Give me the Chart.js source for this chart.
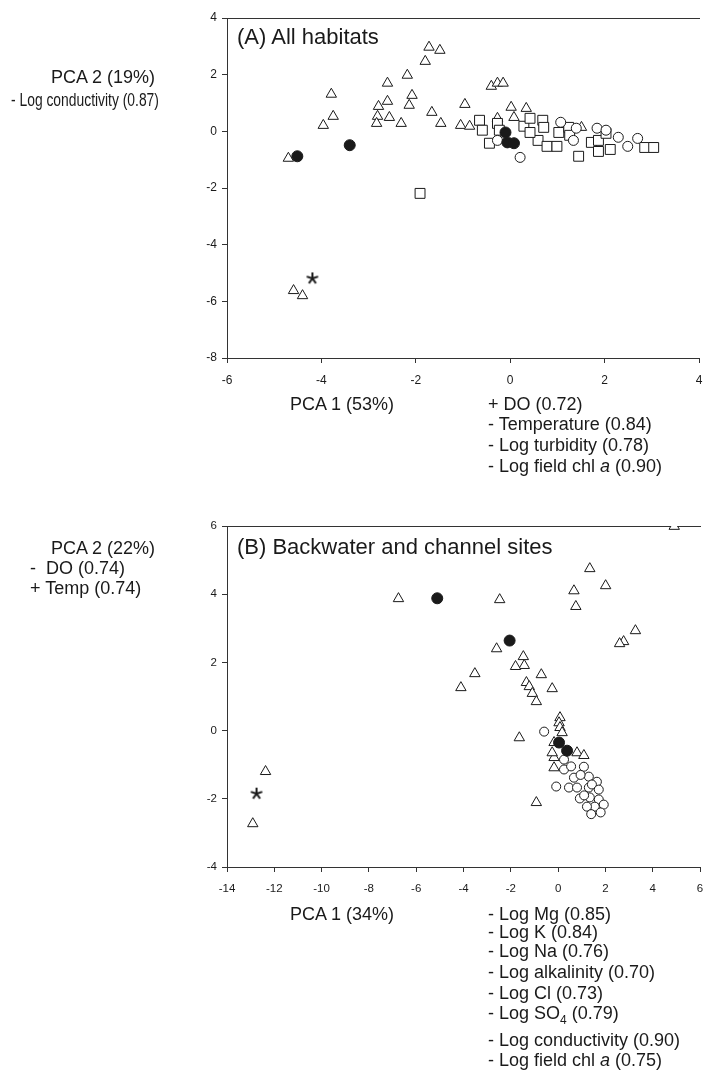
<!DOCTYPE html>
<html>
<head>
<meta charset="utf-8">
<script src="https://cdn.jsdelivr.net/npm/chart.js@4.4.1/dist/chart.umd.min.js"></script>
<style>
body { margin: 0; background: #fff; font-family: "Liberation Sans", Arial, sans-serif; color: #1a1a1a; }
#page { position: relative; width: 707px; height: 1071px; overflow: hidden; }
canvas { position: absolute; left: 0; }
.lbl { position: absolute; font-size: 18px; white-space: nowrap; line-height: 20px; z-index: 2; }
.ttl { position: absolute; font-size: 22px; white-space: nowrap; line-height: 24px; z-index: 2; }
.c { text-align: center; }
.sq { display: inline-block; transform: scaleX(0.77); transform-origin: left center; }
sub { font-size: 12px; line-height: 0; }
</style>
</head>
<body>
<div id="page">
  <canvas id="chartA" width="707" height="400" style="top:0px"></canvas>
  <canvas id="chartB" width="707" height="420" style="top:500px"></canvas>

  <!-- panel A text -->
  <div class="ttl" style="left:237px; top:25px">(A) All habitats</div>
  <div class="lbl c" style="left:0px; width:206px; top:67px">PCA 2 (19%)</div>
  <div class="lbl" style="left:11px; top:90px"><span class="sq">- Log conductivity (0.87)</span></div>
  <div class="lbl c" style="left:242px; width:200px; top:394px">PCA 1 (53%)</div>
  <div class="lbl" style="left:488px; top:394px">+ DO (0.72)</div>
  <div class="lbl" style="left:488px; top:414px">- Temperature (0.84)</div>
  <div class="lbl" style="left:488px; top:435px">- Log turbidity (0.78)</div>
  <div class="lbl" style="left:488px; top:456px">- Log field chl <i>a</i> (0.90)</div>

  <!-- panel B text -->
  <div class="ttl" style="left:237px; top:535px">(B) Backwater and channel sites</div>
  <div class="lbl c" style="left:0px; width:206px; top:538px">PCA 2 (22%)</div>
  <div class="lbl" style="left:30px; top:558px">-&nbsp; DO (0.74)</div>
  <div class="lbl" style="left:30px; top:578px">+ Temp (0.74)</div>
  <div class="lbl c" style="left:242px; width:200px; top:904px">PCA 1 (34%)</div>
  <div class="lbl" style="left:488px; top:904px">- Log Mg (0.85)</div>
  <div class="lbl" style="left:488px; top:922px">- Log K (0.84)</div>
  <div class="lbl" style="left:488px; top:941px">- Log Na (0.76)</div>
  <div class="lbl" style="left:488px; top:962px">- Log alkalinity (0.70)</div>
  <div class="lbl" style="left:488px; top:983px">- Log Cl (0.73)</div>
  <div class="lbl" style="left:488px; top:1003px">- Log SO<sub>4</sub> (0.79)</div>
  <div class="lbl" style="left:488px; top:1030px">- Log conductivity (0.90)</div>
  <div class="lbl" style="left:488px; top:1050px">- Log field chl <i>a</i> (0.75)</div>
</div>

<script>
// ---- panel A data (PCA 1, PCA 2) ----
var aTriangles = [[-1.72,2.97],[-1.49,2.86],[-1.80,2.47],[-2.18,1.98],[-2.60,1.70],[-3.79,1.31],
  [-2.08,1.27],[-2.60,1.06],[-2.79,0.88],[-2.14,0.92],[-3.75,0.53],[-2.81,0.53],[-2.56,0.49],
  [-1.66,0.67],[-0.96,0.95],[-3.96,0.21],[-2.83,0.28],[-2.31,0.28],[-1.47,0.28],[-1.05,0.21],
  [-0.86,0.18],[-4.70,-0.95],[-4.59,-5.62],[-4.40,-5.80],[-0.40,1.59],[-0.27,1.70],[-0.15,1.70],
  [0.02,0.85],[0.34,0.81],[-0.27,0.46],[0.08,0.49],[1.51,0.14]];
var aSquares = [[-1.91,-2.19],[-0.65,0.39],[-0.59,0.04],[-0.27,0.28],[-0.23,0.04],[-0.44,-0.42],
  [0.29,0.18],[0.42,0.46],[0.69,0.39],[0.71,0.14],[0.59,-0.32],[0.78,-0.53],[0.99,-0.53],
  [1.03,-0.04],[1.24,0.14],[1.26,-0.14],[1.45,-0.88],[1.72,-0.39],[1.87,-0.32],[1.87,-0.71],
  [2.12,-0.64],[2.85,-0.57],[3.04,-0.57],[0.42,-0.04],[2.03,-0.07]];
var aCircles = [[-0.27,-0.32],[0.21,-0.92],[1.07,0.32],[1.34,-0.32],[1.84,0.11],[2.03,0.04],
  [2.29,-0.21],[2.49,-0.53],[2.70,-0.25],[1.40,0.11]];
var aFilled = [[-4.51,-0.88],[-3.40,-0.49],[-0.10,-0.04],[-0.06,-0.39],[0.08,-0.42]];
var aStar = [[-4.19,-5.19]];

// ---- panel B data ----
var bTriangles = [[4.91,5.99],[1.34,4.75],[2.01,4.25],[0.67,4.10],[0.75,3.64],[-6.75,3.87],
  [-2.47,3.84],[-2.60,2.40],[3.27,2.93],[2.77,2.61],[2.60,2.55],[-1.47,2.17],[-1.43,1.91],
  [-1.80,1.88],[-3.52,1.67],[-4.11,1.26],[-0.71,1.64],[-1.34,1.41],[-1.22,1.29],[-1.09,1.09],
  [-0.92,0.85],[-0.25,1.23],[0.08,0.38],[0.04,0.23],[0.08,0.09],[0.17,-0.06],[-1.64,-0.21],
  [-0.17,-0.35],[0.80,-0.65],[1.09,-0.73],[-0.17,-0.79],[-0.17,-1.09],[-0.92,-2.11],
  [-0.25,-0.65],[-12.37,-1.20],[-12.91,-2.73]];
var bCircles = [[-0.59,-0.03],[0.25,-0.85],[0.25,-1.14],[1.09,-1.06],[0.67,-1.38],[-0.08,-1.64],
  [0.46,-1.67],[0.80,-1.67],[1.30,-1.67],[1.30,-1.35],[1.64,-1.50],[1.34,-1.96],[0.92,-1.99],
  [1.72,-2.02],[1.93,-2.17],[1.55,-2.23],[1.22,-2.23],[1.43,-1.58],[1.72,-1.73],[1.40,-2.45],
  [1.80,-2.40],[0.55,-1.05],[0.95,-1.30],[1.10,-1.90]];
var bFilled = [[-5.11,3.88],[-2.05,2.64],[0.04,-0.35],[0.38,-0.59]];
var bStar = [[-12.75,-1.85]];

var ink = '#1a1a1a';

function pts(arr) {
  return arr.map(function(p) { return { x: p[0], y: p[1] }; });
}

// little asterisk used as a point style
function makeStar() {
  var c = document.createElement('canvas');
  c.width = 14; c.height = 14;
  var g = c.getContext('2d');
  g.strokeStyle = ink;
  g.lineWidth = 2;
  for (var k = 0; k < 5; k++) {
    var a = -Math.PI / 2 + k * 2 * Math.PI / 5;
    g.beginPath();
    g.moveTo(7, 7);
    g.lineTo(7 + 6 * Math.cos(a), 7 + 6 * Math.sin(a));
    g.stroke();
  }
  return c;
}
var starImg = makeStar();

function series(data, style, r, fill, order) {
  return {
    data: pts(data),
    pointStyle: style,
    pointRadius: r,
    pointBorderWidth: 1,
    pointBorderColor: ink,
    pointBackgroundColor: fill,
    showLine: false,
    order: order
  };
}

function axis(pos, min, max, step, size, fontSize, pad) {
  return {
    type: 'linear',
    position: pos,
    min: min,
    max: max,
    ticks: { stepSize: step, color: ink, font: { size: fontSize, family: 'Liberation Sans' }, padding: pad },
    grid: { drawOnChartArea: false, drawTicks: true, tickLength: 5, color: '#333' },
    border: { display: true, color: '#333', width: 1 },
    afterFit: function(s) {
      if (pos === 'left') {
        s.width = size;
      } else {
        s.height = size;
        // don't let the end labels shrink the plot
        s.paddingLeft = 0;
        s.paddingRight = 0;
      }
    }
  };
}

function makePanel(id, datasets, xr, yr, padTop, xAxisH, fontSize) {
  var xTop = {
    type: 'linear', axis: 'x', position: 'top', min: xr[0], max: xr[1],
    ticks: { display: false },
    grid: { display: false },
    border: { display: true, color: '#333', width: 1 },
    afterFit: function(s) { s.height = 0; s.paddingLeft = 0; s.paddingRight = 0; }
  };
  return new Chart(document.getElementById(id), {
    type: 'scatter',
    data: { datasets: datasets },
    options: {
      responsive: false,
      animation: false,
      events: [],
      layout: { padding: { top: padTop, right: -1, left: 0, bottom: 0 } },
      plugins: { legend: { display: false }, tooltip: { enabled: false } },
      scales: {
        x: axis('bottom', xr[0], xr[1], xr[2], xAxisH, fontSize, 10),
        y: axis('left', yr[0], yr[1], yr[2], 227, fontSize, 5),
        xTop: xTop
      }
    }
  });
}

makePanel('chartA', [
  series(aFilled, 'circle', 5.5, ink, 0),
  series(aStar, starImg, 6, ink, 0),
  series(aCircles, 'circle', 5, '#fff', 1),
  series(aSquares, 'rect', 7, '#fff', 1),
  series(aTriangles, 'triangle', 6, '#fff', 2)
], [-6, 4, 2], [-8, 4, 2], 18, 42, 12);

makePanel('chartB', [
  series(bFilled, 'circle', 5.5, ink, 0),
  series(bStar, starImg, 6, ink, 0),
  series(bCircles, 'circle', 4.5, '#fff', 1),
  series(bTriangles, 'triangle', 6, '#fff', 2)
], [-14, 6, 2], [-4, 6, 2], 26, 53, 11.5);
</script>
</body>
</html>
